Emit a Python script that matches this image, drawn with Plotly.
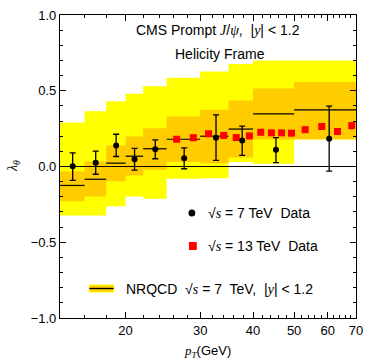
import plotly.graph_objects as go

# ---------------- data ----------------
bin_edges = [14, 16, 18, 20, 22, 25, 30, 35, 40, 50, 70]
nrqcd_central = [-0.125, -0.084, 0.022, 0.068, 0.117, 0.180, 0.200, 0.247, 0.348, 0.374]
nrqcd_inner_hi = [-0.033, 0.033, 0.139, 0.198, 0.253, 0.330, 0.374, 0.436, 0.515, 0.557]
nrqcd_inner_lo = [-0.229, -0.198, -0.097, -0.059, -0.022, 0.029, 0.022, 0.059, 0.178, 0.180]
nrqcd_outer_hi = [0.290, 0.365, 0.431, 0.480, 0.530, 0.585, 0.627, 0.677, 0.700, 0.700]
nrqcd_outer_lo = [-0.323, -0.323, -0.262, -0.198, -0.213, -0.081, -0.077, 0.030, 0.018, 0.178]

pt_7tev = [15.0, 17.0, 19.0, 21.0, 23.5, 27.5, 32.7, 37.7, 45.3, 60.5]
lam_7tev = [0.002, 0.024, 0.139, 0.048, 0.114, 0.055, 0.190, 0.172, 0.110, 0.183]
lam_7tev_hi = [0.090, 0.101, 0.213, 0.119, 0.176, 0.123, 0.341, 0.266, 0.190, 0.398]
lam_7tev_lo = [-0.092, -0.051, 0.066, -0.024, 0.051, -0.015, 0.040, 0.074, 0.026, -0.031]

pt_13tev = [26.4, 28.9, 31.4, 34.1, 36.5, 39.2, 41.7, 44.2, 46.7, 49.3, 53.1, 58.1, 63.3, 68.4]
lam_13tev = [0.180, 0.190, 0.216, 0.205, 0.191, 0.202, 0.226, 0.222, 0.222, 0.220, 0.243, 0.264, 0.231, 0.270]
err_13tev = [0.005, 0.005, 0.006, 0.006, 0.007, 0.008, 0.009, 0.010, 0.011, 0.013, 0.015, 0.020, 0.020, 0.025]

x_ticks = [20, 30, 40, 50, 60, 70]
x_minor = [16, 18, 22, 24, 26, 28, 32, 34, 36, 38, 42, 44, 46, 48,
           52, 54, 56, 58, 62, 64, 66, 68]
y_ticks = [-1.0, -0.5, 0.0, 0.5, 1.0]

YELLOW = "#FFFF00"
ORANGE = "#FFCC00"
SANS = "Liberation Sans"
SERIF = "Liberation Serif"


def step(vals):
    return list(vals) + [vals[-1]]


def it(s):
    return f"<span style='font-family:{SERIF}'><i>{s}</i></span>"


fig = go.Figure()

# outer (yellow) band
fig.add_trace(go.Scatter(x=bin_edges, y=step(nrqcd_outer_lo), mode="lines",
                         line=dict(width=0, shape="hv"), showlegend=False,
                         hoverinfo="skip"))
fig.add_trace(go.Scatter(x=bin_edges, y=step(nrqcd_outer_hi), mode="lines",
                         line=dict(width=0, shape="hv"), fill="tonexty",
                         fillcolor=YELLOW, showlegend=False, hoverinfo="skip"))
# inner (orange) band
fig.add_trace(go.Scatter(x=bin_edges, y=step(nrqcd_inner_lo), mode="lines",
                         line=dict(width=0, shape="hv"), showlegend=False,
                         hoverinfo="skip"))
fig.add_trace(go.Scatter(x=bin_edges, y=step(nrqcd_inner_hi), mode="lines",
                         line=dict(width=0, shape="hv"), fill="tonexty",
                         fillcolor=ORANGE, showlegend=False, hoverinfo="skip"))

# central NRQCD values as separate bin segments
cx, cy = [], []
for i, c in enumerate(nrqcd_central):
    cx += [bin_edges[i], bin_edges[i + 1], None]
    cy += [c, c, None]
fig.add_trace(go.Scatter(x=cx, y=cy, mode="lines",
                         line=dict(color="black", width=1.2),
                         showlegend=False, hoverinfo="skip"))

# 13 TeV data
fig.add_trace(go.Scatter(x=pt_13tev, y=lam_13tev, mode="markers",
                         marker=dict(symbol="square", size=7, color="#FF0000"),
                         error_y=dict(type="data", array=err_13tev,
                                      color="#FF0000", thickness=1.5, width=0),
                         showlegend=False))

# 7 TeV data
fig.add_trace(go.Scatter(x=pt_7tev, y=lam_7tev, mode="markers",
                         marker=dict(symbol="circle", size=6, color="black"),
                         error_y=dict(type="data", symmetric=False,
                                      array=[h - v for h, v in zip(lam_7tev_hi, lam_7tev)],
                                      arrayminus=[v - l for v, l in zip(lam_7tev, lam_7tev_lo)],
                                      color="black", thickness=1.3, width=3),
                         showlegend=False))

L, R, T, B = 60, 8, 15, 42
W, H = 371, 360
PW, PH = W - L - R, H - T - B


def px(x):
    return (x - L) / PW


def py(y):
    return (H - B - y) / PH


shapes = [
    dict(type="line", xref="paper", yref="y", x0=0, x1=1, y0=0, y1=0,
         line=dict(color="black", width=1.2), layer="above"),
    # legend symbols
    dict(type="circle", xref="paper", yref="paper",
         x0=px(191.5), x1=px(198.5), y0=py(216.5), y1=py(209.5),
         fillcolor="black", line=dict(width=0)),
    dict(type="rect", xref="paper", yref="paper",
         x0=px(192), x1=px(200), y0=py(250), y1=py(242),
         fillcolor="#FF0000", line=dict(width=0)),
    dict(type="rect", xref="paper", yref="paper",
         x0=px(90), x1=px(115), y0=py(292), y1=py(285),
         fillcolor=ORANGE, line=dict(color=YELLOW, width=1)),
    dict(type="line", xref="paper", yref="paper",
         x0=px(90), x1=px(115), y0=py(288.5), y1=py(288.5),
         line=dict(color="black", width=1.3)),
]

font = dict(family=SANS, size=13, color="black")
afont = dict(family=SANS, size=14, color="black")
annotations = [
    dict(text=f"CMS Prompt {it('J')}/{it('ψ')},  |{it('y')}| < 1.2",
         x=px(222), y=py(30), xref="paper", yref="paper", showarrow=False,
         xanchor="center", yanchor="middle", font=afont),
    dict(text="Helicity Frame", x=px(224), y=py(54), xref="paper", yref="paper",
         showarrow=False, xanchor="center", yanchor="middle", font=afont),
    dict(text=f"√{it('s')} = 7 TeV  Data", x=px(209), y=py(213), xref="paper",
         yref="paper", showarrow=False, xanchor="left", yanchor="middle", font=afont),
    dict(text=f"√{it('s')} = 13 TeV  Data", x=px(209), y=py(246), xref="paper",
         yref="paper", showarrow=False, xanchor="left", yanchor="middle", font=afont),
    dict(text=f"NRQCD  √{it('s')} = 7  TeV,  |{it('y')}| < 1.2", x=px(126), y=py(289),
         xref="paper", yref="paper", showarrow=False, xanchor="left",
         yanchor="middle", font=afont),
    dict(text=f"{it('p')}<sub>{it('T')}</sub>(GeV)", x=px(211), y=py(351),
         xref="paper", yref="paper", showarrow=False, xanchor="center",
         yanchor="middle", font=font),
    dict(text=f"{it('λ')}<sub>{it('θ')}</sub>", x=px(12), y=py(166),
         xref="paper", yref="paper", showarrow=False, xanchor="center",
         yanchor="middle", textangle=-90, font=dict(family=SERIF, size=14, color="black")),
]

axis_common = dict(showline=True, linecolor="black", linewidth=1.2, mirror="ticks",
                   ticks="inside", tickcolor="black", tickwidth=1, showgrid=False,
                   zeroline=False, tickfont=font)

fig.update_layout(
    width=W, height=H,
    margin=dict(l=L, r=R, t=T, b=B),
    paper_bgcolor="white", plot_bgcolor="white",
    showlegend=False,
    shapes=shapes, annotations=annotations,
    xaxis=dict(type="log", range=[1.146128, 1.845098], tickmode="array",
               tickvals=x_ticks, ticktext=[str(v) for v in x_ticks], ticklen=6,
               minor=dict(tickmode="array", tickvals=x_minor, ticks="inside",
                          ticklen=3, tickcolor="black"),
               **axis_common),
    yaxis=dict(range=[-1, 1], tickmode="array", tickvals=y_ticks,
               ticktext=["−1.0", "−0.5", "0.0", "0.5", "1.0"], ticklen=6,
               minor=dict(dtick=0.1, ticks="inside", ticklen=3, tickcolor="black"),
               **axis_common),
)

fig.write_html("out.html")
